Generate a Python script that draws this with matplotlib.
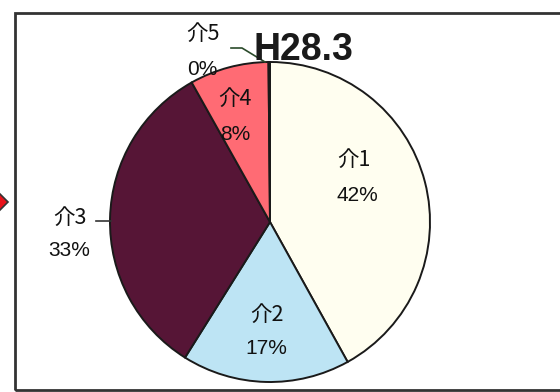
import matplotlib
matplotlib.use("Agg")
import matplotlib.pyplot as plt
from matplotlib.patches import Rectangle, Polygon

plt.rcParams['font.family'] = ['Liberation Sans', 'Noto Sans CJK JP', 'DejaVu Sans']

categories = ['介1', '介2', '介3', '介4', '介5']
values = [42, 17, 33, 8, 0.15]
pct_labels = ['42%', '17%', '33%', '8%', '0%']
colors = ['#FFFEF0', '#BDE4F4', '#561536', '#FF6B74', '#3a6b3a']
title = 'H28.3'

W, H = 560, 392
fig = plt.figure(figsize=(5.6, 3.92), dpi=100)
ax = fig.add_axes([0, 0, 1, 1])

def Y(y):
    return H - y

cx, cy, r = 270, Y(222), 160
ax.pie(values, colors=colors, startangle=90, counterclock=False,
       center=(cx, cy), radius=r,
       wedgeprops=dict(edgecolor='#1a1a1a', linewidth=1.4))
ax.set_xlim(0, W)
ax.set_ylim(0, H)
ax.set_aspect('auto')
ax.axis('off')

# frame
ax.add_patch(Rectangle((15, Y(390)), 560, 377, fill=False, edgecolor='#333333', linewidth=2.0, clip_on=False))
# red arrow at left edge
ax.add_patch(Polygon([(-6, Y(188)), (8, Y(202)), (-6, Y(216))], closed=True,
                     facecolor='#e8131b', edgecolor='#333333', linewidth=1.2))

# labels: (name x, name y, pct x, pct y)
lab_pos = [(354, 160, 357, 195), (267, 315, 266, 348), (70, 218, 69, 250),
           (235, 99, 235, 134), (203, 34, 202, 69)]
for cat, pct, (x1, y1, x2, y2) in zip(categories, pct_labels, lab_pos):
    ax.text(x1, Y(y1), cat, ha='center', va='center', fontsize=15.5,
            family=['Noto Sans CJK JP'], color='#111111')
    ax.text(x2, Y(y2), pct, ha='center', va='center', fontsize=15,
            family=['Liberation Sans'], color='#111111')

# leader lines
ax.plot([231, 242, 265], [Y(48), Y(48), Y(62)], color='#2a4a2a', linewidth=1.2)
ax.plot([96, 111], [Y(221), Y(221)], color='#333333', linewidth=1.2)

ax.text(253, Y(60), title, ha='left', va='baseline', fontsize=27,
        fontweight='bold', family=['Liberation Sans'], color='#1a1a1a')

fig.savefig('out.png', dpi=100)
